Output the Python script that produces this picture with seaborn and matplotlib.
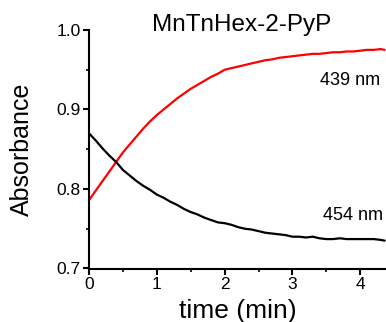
import matplotlib
matplotlib.use("Agg")
import matplotlib.pyplot as plt
import seaborn as sns
import pandas as pd
from matplotlib.ticker import MultipleLocator

sns.set_theme(style="ticks")
plt.rcParams['font.family'] = ['Liberation Sans', 'DejaVu Sans']
plt.rcParams['text.color'] = 'black'
plt.rcParams['axes.labelcolor'] = 'black'

time_min = [0.0, 0.1, 0.2, 0.3, 0.4, 0.5, 0.6, 0.7, 0.8, 0.9,
            1.0, 1.1, 1.2, 1.3, 1.4, 1.5, 1.6, 1.7, 1.8, 1.9,
            2.0, 2.1, 2.2, 2.3, 2.4, 2.5, 2.6, 2.7, 2.8, 2.9,
            3.0, 3.1, 3.2, 3.3, 3.4, 3.5, 3.6, 3.7, 3.8, 3.9,
            4.0, 4.1, 4.2, 4.3, 4.36]
abs_439 = [0.786, 0.798, 0.810, 0.822, 0.834, 0.846, 0.856, 0.866, 0.876, 0.885,
           0.893, 0.900, 0.907, 0.914, 0.920, 0.926, 0.931, 0.936, 0.941, 0.945,
           0.950, 0.952, 0.954, 0.956, 0.958, 0.960, 0.962, 0.963, 0.965, 0.966,
           0.967, 0.968, 0.969, 0.970, 0.970, 0.971, 0.972, 0.972, 0.973, 0.973,
           0.974, 0.975, 0.975, 0.976, 0.975]
abs_454 = [0.870, 0.861, 0.851, 0.842, 0.834, 0.824, 0.817, 0.810, 0.804, 0.799,
           0.793, 0.789, 0.784, 0.780, 0.775, 0.771, 0.768, 0.764, 0.761, 0.758,
           0.757, 0.755, 0.752, 0.750, 0.749, 0.747, 0.745, 0.744, 0.743, 0.742,
           0.740, 0.740, 0.739, 0.740, 0.738, 0.737, 0.737, 0.738, 0.737, 0.737,
           0.737, 0.737, 0.737, 0.736, 0.735]
title = "MnTnHex-2-PyP"
label_439 = "439 nm"
label_454 = "454 nm"

df = pd.DataFrame({"time": time_min, "a439": abs_439, "a454": abs_454})

W, H = 386, 322
fig = plt.figure(figsize=(W / 100, H / 100), dpi=100)
ax = fig.add_axes([89/W, (H-268.5)/H, 1 - 89/W, (268.5-30)/H])

sns.lineplot(data=df, x="time", y="a439", color="#ff0000", linewidth=1.6, ax=ax)
sns.lineplot(data=df, x="time", y="a454", color="black", linewidth=1.6, ax=ax)

ax.set_xlim(0, 4.38)
ax.set_ylim(0.7, 1.0)
ax.xaxis.set_major_locator(MultipleLocator(1))
ax.xaxis.set_minor_locator(MultipleLocator(0.5))
ax.yaxis.set_major_locator(MultipleLocator(0.1))
ax.yaxis.set_minor_locator(MultipleLocator(0.05))
ax.yaxis.set_major_formatter(matplotlib.ticker.FormatStrFormatter('%.1f'))

for s in ["top", "right"]:
    ax.spines[s].set_visible(False)
for s in ["left", "bottom"]:
    ax.spines[s].set_linewidth(1.5)
    ax.spines[s].set_color("black")

ax.tick_params(which="major", direction="out", length=4, width=1.5,
               labelsize=12.5, colors="black", labelcolor="black", pad=2)
ax.tick_params(which="minor", direction="out", length=2, width=1.2, colors="black")

ax.set_xlabel("time (min)", fontsize=19, labelpad=5.5, color="black")
ax.set_ylabel("Absorbance", fontsize=18, labelpad=16, color="black")

fig.text(242/W, (H-31)/H, title, fontsize=17.5, ha="center", va="baseline", color="black")
fig.text(380/W, (H-85)/H, label_439, fontsize=13, ha="right", va="baseline", color="black")
fig.text(383/W, (H-220)/H, label_454, fontsize=13, ha="right", va="baseline", color="black")

fig.savefig("out.png", dpi=100)
